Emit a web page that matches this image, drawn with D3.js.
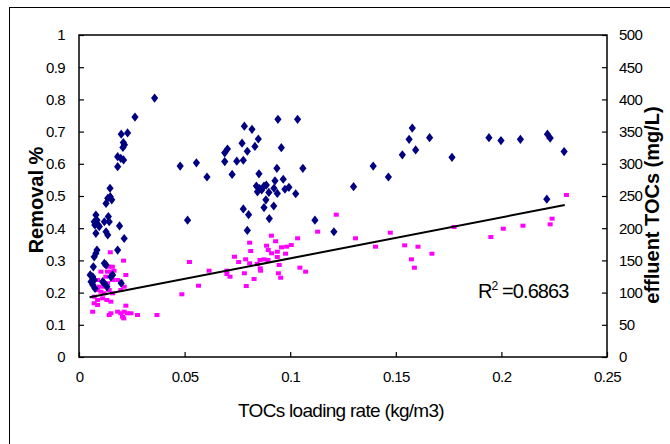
<!DOCTYPE html>
<html>
<head>
<meta charset="utf-8">
<style>
  body { margin: 0; background: #fff; }
  svg { display: block; }
  .tick-label { font-family: "Liberation Sans Narrow", "Liberation Sans", sans-serif; font-size: 15px; letter-spacing: -0.6px; fill: #000; }
  .title-bold { font-family: "Liberation Sans", Arial, sans-serif; font-weight: bold; font-size: 20px; fill: #000; }
  .title-x { font-family: "Liberation Sans Narrow", "Liberation Sans", sans-serif; font-size: 19px; letter-spacing: -0.7px; fill: #000; }
</style>
</head>
<body>
<div id="chart"></div>
<script src="https://d3js.org/d3.v7.min.js"></script>
<script>
'use strict';

// removal % (left axis), blue diamonds
var removalLoad = [0.0183, 0.0198, 0.0211, 0.0183, 0.0147, 0.0136, 0.0148, 0.0128, 0.0155,
  0.008, 0.0072, 0.0085, 0.0091, 0.0075, 0.012, 0.0139, 0.0143, 0.0128, 0.0136, 0.0192, 0.0214, 0.008, 0.0096,
  0.0183, 0.008, 0.0072, 0.0085, 0.0068, 0.0053, 0.0065, 0.0057, 0.0072, 0.012, 0.0128, 0.0151, 0.0159, 0.0112,
  0.0065, 0.0076, 0.012, 0.0132, 0.02,
  0.0265, 0.0358, 0.023, 0.020, 0.021, 0.0215, 0.0208,
  0.0942, 0.1035, 0.0783, 0.0819, 0.0772, 0.0849, 0.0703, 0.069, 0.0797, 0.0833, 0.0958,
  0.0479, 0.0556, 0.0606, 0.069, 0.0747, 0.0778, 0.0725, 0.0937, 0.106, 0.0852,
  0.084, 0.0855, 0.0876, 0.0887, 0.0845, 0.0865, 0.0899, 0.0928, 0.0923, 0.0939, 0.0967, 0.0975, 0.0994, 0.1026,
  0.0885, 0.0876, 0.0922, 0.0778, 0.0803, 0.0901, 0.0797, 0.0514, 0.1117, 0.1207,
  0.13, 0.1393, 0.1465, 0.1531, 0.1563, 0.1578, 0.1594, 0.166, 0.1766, 0.1941, 0.1998, 0.209, 0.2218, 0.2231, 0.2215, 0.2297];
var removalPct = [0.622, 0.617, 0.612, 0.591, 0.524, 0.493, 0.498, 0.477, 0.488,
  0.441, 0.420, 0.425, 0.410, 0.410, 0.420, 0.436, 0.420, 0.389, 0.379, 0.407, 0.368, 0.384, 0.405,
  0.332, 0.322, 0.311, 0.332, 0.28, 0.255, 0.249, 0.234, 0.239, 0.291, 0.286, 0.249, 0.255, 0.234,
  0.224, 0.213, 0.229, 0.218, 0.229,
  0.745, 0.804, 0.696, 0.692, 0.666, 0.659, 0.651,
  0.738, 0.738, 0.717, 0.707, 0.664, 0.677, 0.646, 0.634, 0.639, 0.654, 0.650,
  0.593, 0.603, 0.559, 0.607, 0.608, 0.611, 0.567, 0.586, 0.586, 0.569,
  0.531, 0.523, 0.531, 0.534, 0.513, 0.519, 0.511, 0.547, 0.524, 0.508, 0.552, 0.521, 0.527, 0.507,
  0.488, 0.464, 0.469, 0.460, 0.442, 0.430, 0.393, 0.425, 0.425, 0.389,
  0.529, 0.593, 0.559, 0.628, 0.676, 0.711, 0.643, 0.681, 0.620, 0.681, 0.672, 0.676, 0.692, 0.680, 0.490, 0.638];

// effluent TOCs mg/L (right axis), pink squares
var effluentLoad = [0.0148, 0.0211, 0.0142, 0.0158, 0.0166, 0.0135, 0.0151, 0.0127, 0.0104, 0.0088, 0.0135, 0.0159,
  0.0183, 0.0198, 0.0222, 0.0119, 0.0096, 0.0088, 0.0104, 0.0119, 0.0143, 0.0159, 0.0198, 0.0214,
  0.0072, 0.0088, 0.0112, 0.0132, 0.0151, 0.0072, 0.0088, 0.0222, 0.0065, 0.0151, 0.0143, 0.0183,
  0.0198, 0.0214, 0.0230, 0.0246, 0.0206, 0.0277, 0.0369, 0.0212,
  0.1218, 0.113, 0.1474, 0.1309, 0.1404, 0.1035, 0.0911, 0.0931, 0.0808, 0.0888, 0.0896, 0.0959,
  0.0983, 0.1005, 0.0939, 0.0978, 0.0912, 0.0813, 0.0939, 0.0736, 0.0756, 0.0789, 0.0808, 0.0857,
  0.0876, 0.0895, 0.0844, 0.0948, 0.0523, 0.0616, 0.07, 0.07, 0.0715, 0.0783, 0.0858, 0.086,
  0.0944, 0.0955, 0.1046, 0.1073, 0.0829, 0.0566, 0.0792, 0.0487,
  0.2226, 0.2308, 0.224, 0.2231, 0.2102, 0.2009, 0.195, 0.1776, 0.1671, 0.1605, 0.1542, 0.1574, 0.1588];
var effluentToc = [162.6, 149.6, 140.2, 140.2, 134, 132.5, 132.5, 124.7, 132.5, 119.6, 114.4, 119.6,
  119.6, 116.9, 127.3, 109.2, 109.2, 104, 101.4, 98.9, 104, 98.9, 104, 109.2,
  93.6, 88.5, 91.1, 88.5, 85.9, 83.4, 80.7, 79.7, 70.3, 67.9, 65.2, 70.3,
  67.9, 70.3, 67.9, 67.9, 62.6, 65.2, 65.2, 60,
  221, 194.6, 193, 184.3, 171.3, 184.3, 188.4, 179.7, 177.5, 172.8, 166.1, 170.3,
  171.3, 173.9, 163.5, 160.4, 161, 164.6, 155.3, 155.7, 147.5, 151.7, 145.5, 150.6,
  151.7, 150.6, 144.4, 142.9, 147.5, 134, 134, 128.9, 124.7, 130, 137.7, 134,
  130, 123.1, 138.7, 132.5, 121.1, 110.7, 110.2, 97.4,
  341, 251.6, 214.8, 206, 203.9, 199.2, 186.3, 201.9, 160.4, 171.3, 173.4, 151.7, 138.7];

// linear trend of effluent TOCs
var trendSlope = 636.6;
var trendIntercept = 89.5;
var trendRange = [0.005, 0.23];
var trendLabel = '0.6863';

var xTicks = [0, 0.05, 0.1, 0.15, 0.2, 0.25];
var leftTicks = [0, 0.1, 0.2, 0.3, 0.4, 0.5, 0.6, 0.7, 0.8, 0.9, 1];
var rightTicks = [0, 50, 100, 150, 200, 250, 300, 350, 400, 450, 500];

var width = 670, height = 444;
var plot = { left: 79, right: 607, top: 35, bottom: 357 };

var x = d3.scaleLinear().domain([0, 0.25]).range([plot.left, plot.right]);
var yL = d3.scaleLinear().domain([0, 1]).range([plot.bottom, plot.top]);
var yR = d3.scaleLinear().domain([0, 500]).range([plot.bottom, plot.top]);

var svg = d3.select('#chart').append('svg')
  .attr('width', width).attr('height', height);

// outer chart border
svg.append('rect')
  .attr('x', 9.5).attr('y', 7.5)
  .attr('width', 700).attr('height', 500)
  .attr('fill', 'none').attr('stroke', '#000').attr('stroke-width', 1);

// axes, ticks inside
var fmt = function(d) { return String(+d.toFixed(2)); };

var gx = svg.append('g').attr('transform', 'translate(0,' + plot.bottom + ')')
  .call(d3.axisBottom(x).tickValues(xTicks).tickSize(-5).tickPadding(14).tickFormat(fmt));
var gl = svg.append('g').attr('transform', 'translate(' + plot.left + ',0)')
  .call(d3.axisLeft(yL).tickValues(leftTicks).tickSize(-5).tickPadding(14).tickFormat(fmt));
var gr = svg.append('g').attr('transform', 'translate(' + plot.right + ',0)')
  .call(d3.axisRight(yR).tickValues(rightTicks).tickSize(-5).tickPadding(12).tickFormat(d3.format('d')));

[gx, gl, gr].forEach(function(g) {
  g.select('.domain').remove();
  g.selectAll('.tick line').attr('stroke', '#000').attr('stroke-width', 1.2);
  g.selectAll('.tick text').attr('class', 'tick-label').attr('font-family', null).attr('font-size', null);
});
gx.selectAll('.tick text').attr('dy', '0.71em');

// plot frame
svg.append('rect')
  .attr('x', plot.left).attr('y', plot.top)
  .attr('width', plot.right - plot.left).attr('height', plot.bottom - plot.top)
  .attr('fill', 'none').attr('stroke', '#000').attr('stroke-width', 1.5);

// effluent TOCs squares
svg.append('g').selectAll('rect')
  .data(d3.zip(effluentLoad, effluentToc))
  .join('rect')
  .attr('x', function(d) { return x(d[0]) - 2.5; })
  .attr('y', function(d) { return yR(d[1]) - 2; })
  .attr('width', 5).attr('height', 4)
  .attr('fill', '#ff00ff');

// removal diamonds
svg.append('g').selectAll('path')
  .data(d3.zip(removalLoad, removalPct))
  .join('path')
  .attr('d', function(d) {
    var cx = x(d[0]), cy = yL(d[1]);
    return 'M' + cx + ',' + (cy - 4.6) + 'L' + (cx + 3.6) + ',' + cy +
      'L' + cx + ',' + (cy + 4.6) + 'L' + (cx - 3.6) + ',' + cy + 'Z';
  })
  .attr('fill', '#000080');

// trend line
var line = d3.line()
  .x(function(d) { return x(d); })
  .y(function(d) { return yR(trendSlope * d + trendIntercept); });
svg.append('path')
  .datum(trendRange)
  .attr('d', line)
  .attr('fill', 'none').attr('stroke', '#000').attr('stroke-width', 2);

// R squared label
var r2 = svg.append('text')
  .attr('class', 'title-x')
  .attr('x', 478).attr('y', 298)
  .style('font-size', '20px')
  .style('letter-spacing', '-0.9px');
r2.append('tspan').text('R');
r2.append('tspan').attr('dy', -8).style('font-size', '12px').text('2');
r2.append('tspan').attr('dy', 8).text(' =' + trendLabel);

// axis titles
svg.append('text')
  .attr('class', 'title-bold')
  .attr('transform', 'translate(36,200) rotate(-90)')
  .attr('text-anchor', 'middle').attr('dy', '0.35em')
  .text('Removal %');

svg.append('text')
  .attr('class', 'title-bold')
  .attr('transform', 'translate(652,205) rotate(-90)')
  .attr('text-anchor', 'middle').attr('dy', '0.35em')
  .text('effluent TOCs (mg/L)');

svg.append('text')
  .attr('class', 'title-x')
  .attr('x', 341).attr('y', 417)
  .attr('text-anchor', 'middle')
  .text('TOCs loading rate (kg/m3)');
</script>
</body>
</html>
